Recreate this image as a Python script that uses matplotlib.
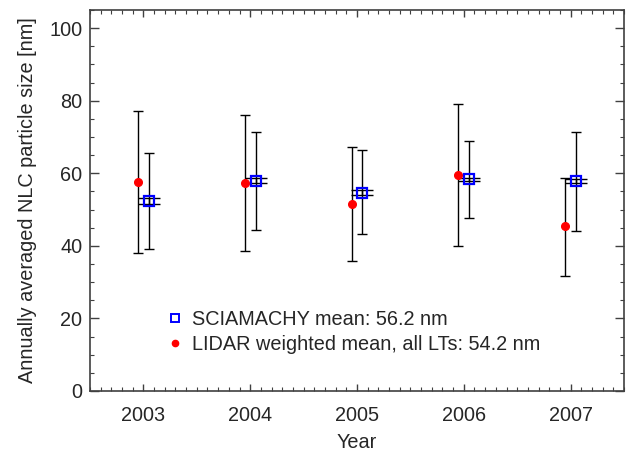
import matplotlib.pyplot as plt
from matplotlib.ticker import MultipleLocator

plt.rcParams['font.family'] = ['Liberation Sans', 'DejaVu Sans']

# Annual NLC particle sizes (nm)
years = [2003, 2004, 2005, 2006, 2007]

lidar_mean = [57.7, 57.2, 51.6, 59.5, 45.4]
lidar_low = [38.0, 38.5, 35.9, 40.0, 31.7]
lidar_high = [77.3, 76.0, 67.3, 79.1, 58.8]

scia_mean = [52.3, 58.0, 54.7, 58.3, 57.9]
scia_low = [39.0, 44.5, 43.2, 47.7, 44.1]
scia_high = [65.5, 71.5, 66.3, 68.9, 71.5]
scia_se = [0.85, 0.7, 0.6, 0.5, 0.6]

scia_label = "SCIAMACHY mean: 56.2 nm"
lidar_label = "LIDAR weighted mean, all LTs: 54.2 nm"

fs = 14.3
txt = '#262626'

fig = plt.figure(figsize=(6.28, 4.57), dpi=100)
ax = fig.add_axes([90/628, 1 - 391/457, 534/628, 381/457])

x_lidar = [y - 0.05 for y in years]
x_scia = [y + 0.05 for y in years]

# LIDAR: full range bars + red dots
ax.errorbar(x_lidar, lidar_mean,
            yerr=[[m - l for m, l in zip(lidar_mean, lidar_low)],
                  [h - m for m, h in zip(lidar_mean, lidar_high)]],
            fmt='none', ecolor='black', elinewidth=1, capsize=3.6, capthick=1)
ax.plot(x_lidar, lidar_mean, 'o', color='red', markersize=5.5, label=lidar_label, zorder=5)

# SCIAMACHY: spread bars, narrow standard error with wide caps, open squares
ax.errorbar(x_scia, scia_mean,
            yerr=[[m - l for m, l in zip(scia_mean, scia_low)],
                  [h - m for m, h in zip(scia_mean, scia_high)]],
            fmt='none', ecolor='black', elinewidth=1, capsize=3.6, capthick=1)
ax.errorbar(x_scia, scia_mean, yerr=scia_se,
            fmt='none', ecolor='black', elinewidth=1, capsize=7.7, capthick=1)
ax.plot(x_scia, scia_mean, 's', markerfacecolor='none', markeredgecolor='blue',
        markeredgewidth=1.6, markersize=7, label=scia_label, zorder=5)

ax.set_xlim(2002.5, 2007.5)
ax.set_ylim(0, 105)
ax.set_xticks(years)
ax.set_xticklabels([str(y) for y in years])
ax.xaxis.set_minor_locator(MultipleLocator(0.1))
ax.yaxis.set_major_locator(MultipleLocator(20))
ax.yaxis.set_minor_locator(MultipleLocator(5))

ax.tick_params(which='both', direction='in', top=True, right=True, colors='#404040',
               labelcolor=txt, labelsize=fs)
ax.tick_params(axis='x', which='major', length=5, width=1, pad=10.5)
ax.tick_params(axis='y', which='major', length=6.8, width=1, pad=5.5)
ax.tick_params(which='minor', length=3.2, width=0.8)
for s in ax.spines.values():
    s.set_color('#404040')
    s.set_linewidth(1.2)

ax.set_xlabel('Year', fontsize=fs, color=txt)
ax.set_ylabel('Annually averaged NLC particle size [nm]', fontsize=fs, color=txt)
ax.xaxis.set_label_coords(0.5, -0.11)
ax.yaxis.set_label_coords(-0.1, 0.5)

handles, labels = ax.get_legend_handles_labels()
leg = ax.legend(handles[::-1], labels[::-1], loc='center left',
                bbox_to_anchor=(167/628, 1 - 332/457), bbox_transform=fig.transFigure,
                frameon=False, fontsize=fs, numpoints=1, handlelength=0.8,
                handletextpad=0.45, labelspacing=0.3, borderpad=0, borderaxespad=0,
                labelcolor=txt)
leg.legend_handles[0].set_markersize(6)
leg.legend_handles[0].set_markeredgewidth(1.4)
leg.legend_handles[1].set_markersize(4.5)

fig.savefig('out.png', dpi=100)
